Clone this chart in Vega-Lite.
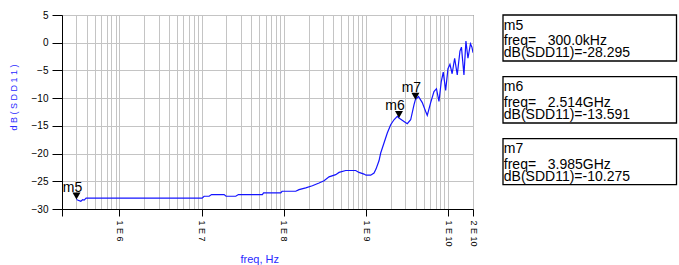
{
  "$schema": "https://vega.github.io/schema/vega-lite/v6.json",
  "padding": {"left": 8, "top": 9, "right": 0, "bottom": 0},
  "config": {"font": "Liberation Sans", "view": {"stroke": null}},
  "bounds": "flush",
  "spacing": 30,
  "datasets": {
    "sdd11": [
      {"freq": 3e5, "db": -28.295}, {"freq": 3.24e5, "db": -28.5}, {"freq": 3.39e5, "db": -28.6},
      {"freq": 3.57e5, "db": -28.3}, {"freq": 3.72e5, "db": -28.4}, {"freq": 3.93e5, "db": -28.05},
      {"freq": 1.013e7, "db": -28.05}, {"freq": 1.071e7, "db": -27.7}, {"freq": 1.232e7, "db": -27.7},
      {"freq": 1.321e7, "db": -27.4}, {"freq": 1.875e7, "db": -27.4}, {"freq": 1.983e7, "db": -27.7},
      {"freq": 2.601e7, "db": -27.7}, {"freq": 2.798e7, "db": -27.4}, {"freq": 5.477e7, "db": -27.4},
      {"freq": 5.665e7, "db": -27.1}, {"freq": 9.17e7, "db": -27.1}, {"freq": 9.51e7, "db": -26.8},
      {"freq": 1.395e8, "db": -26.8}, {"freq": 1.53e8, "db": -26.5}, {"freq": 1.846e8, "db": -26.2},
      {"freq": 2.221e8, "db": -25.8}, {"freq": 2.679e8, "db": -25.3}, {"freq": 3.083e8, "db": -24.9},
      {"freq": 3.545e8, "db": -24.2}, {"freq": 4.276e8, "db": -23.8}, {"freq": 4.69e8, "db": -23.4},
      {"freq": 5.656e8, "db": -23.05}, {"freq": 7.486e8, "db": -23.05}, {"freq": 8.21e8, "db": -23.4},
      {"freq": 9.44e8, "db": -23.7}, {"freq": 9.99e8, "db": -23.9}, {"freq": 1.139e9, "db": -23.9},
      {"freq": 1.25e9, "db": -23.5}, {"freq": 1.321e9, "db": -22.8}, {"freq": 1.437e9, "db": -21.3},
      {"freq": 1.507e9, "db": -19.9}, {"freq": 1.653e9, "db": -18.1}, {"freq": 1.813e9, "db": -16.3},
      {"freq": 1.994e9, "db": -14.8}, {"freq": 2.187e9, "db": -13.9}, {"freq": 2.399e9, "db": -13.3},
      {"freq": 2.514e9, "db": -13.591}, {"freq": 2.893e9, "db": -14.2}, {"freq": 3.174e9, "db": -14.6},
      {"freq": 3.49e9, "db": -13.9}, {"freq": 3.828e9, "db": -11.2}, {"freq": 3.985e9, "db": -10.275},
      {"freq": 4.342e9, "db": -9.7}, {"freq": 4.83e9, "db": -10.8}, {"freq": 5.312e9, "db": -12.4},
      {"freq": 5.555e9, "db": -13.1}, {"freq": 6.11e9, "db": -10.8}, {"freq": 6.701e9, "db": -8.8},
      {"freq": 7.187e9, "db": -8.3}, {"freq": 7.707e9, "db": -10.6}, {"freq": 8.222e9, "db": -7.0},
      {"freq": 8.695e9, "db": -5.3}, {"freq": 9.298e9, "db": -8.6}, {"freq": 9.917e9, "db": -4.7},
      {"freq": 1.049e10, "db": -3.9}, {"freq": 1.115e10, "db": -5.6}, {"freq": 1.196e10, "db": -2.8},
      {"freq": 1.287e10, "db": -5.8}, {"freq": 1.388e10, "db": -1.5}, {"freq": 1.447e10, "db": -0.8},
      {"freq": 1.552e10, "db": -5.8}, {"freq": 1.641e10, "db": 0.3}, {"freq": 1.736e10, "db": -2.8},
      {"freq": 1.862e10, "db": -0.2}, {"freq": 1.941e10, "db": -0.8}, {"freq": 2e10, "db": -1.8}
    ],
    "markers": [
      {"name": "m5", "freq": 3e5, "db": -28.295},
      {"name": "m6", "freq": 2.514e9, "db": -13.591},
      {"name": "m7", "freq": 3.985e9, "db": -10.275}
    ],
    "boxes": [
      {"name": "m5", "x0": 0, "x1": 173.5, "top": 0, "bottom": 46},
      {"name": "m6", "x0": 0, "x1": 173.5, "top": 61.6, "bottom": 108},
      {"name": "m7", "x0": 0, "x1": 173.5, "top": 123.6, "bottom": 169.6}
    ],
    "lines": [
      {"x": 0.8, "y": 14.5, "text": "m5"},
      {"x": 0.8, "y": 30, "text": "freq=\u00a0\u00a0\u00a0300.0kHz"},
      {"x": 0.8, "y": 42.3, "text": "dB(SDD11)=-28.295"},
      {"x": 0.8, "y": 76.1, "text": "m6"},
      {"x": 0.8, "y": 91.6, "text": "freq=\u00a0\u00a0\u00a02.514GHz"},
      {"x": 0.8, "y": 103.9, "text": "dB(SDD11)=-13.591"},
      {"x": 0.8, "y": 138.1, "text": "m7"},
      {"x": 0.8, "y": 153.6, "text": "freq=\u00a0\u00a0\u00a03.985GHz"},
      {"x": 0.8, "y": 165.9, "text": "dB(SDD11)=-10.275"}
    ]
  },
  "hconcat": [
    {
      "width": 411,
      "height": 194,
      "view": {"stroke": "#404040", "strokeWidth": 1},
      "encoding": {
        "x": {
          "field": "freq", "type": "quantitative",
          "scale": {"type": "log", "domain": [2e5, 2e10], "nice": false},
          "axis": {
            "values": [2e5, 3e5, 4e5, 5e5, 6e5, 7e5, 8e5, 9e5,
                       1e6, 2e6, 3e6, 4e6, 5e6, 6e6, 7e6, 8e6, 9e6,
                       1e7, 2e7, 3e7, 4e7, 5e7, 6e7, 7e7, 8e7, 9e7,
                       1e8, 2e8, 3e8, 4e8, 5e8, 6e8, 7e8, 8e8, 9e8,
                       1e9, 2e9, 3e9, 4e9, 5e9, 6e9, 7e9, 8e9, 9e9,
                       1e10, 2e10],
            "grid": true, "gridColor": "#c4c4c4", "gridWidth": 1,
            "domainColor": "black", "tickColor": "black",
            "tickSize": {"condition": {"test": "datum.value==2e5||datum.value==1e6||datum.value==1e7||datum.value==1e8||datum.value==1e9||datum.value==1e10||datum.value==2e10", "value": 7}, "value": 0},
            "labelExpr": "datum.value==1e6?'1 E 6':datum.value==1e7?'1 E 7':datum.value==1e8?'1 E 8':datum.value==1e9?'1 E 9':datum.value==1e10?'1 E 10':datum.value==2e10?'2 E 10':''",
            "labelAngle": 90, "labelFontSize": 9, "labelPadding": 4, "labelColor": "black",
            "labelOverlap": false, "labelFlush": false,
            "title": "freq, Hz", "titleColor": "#2a2aff", "titleFontSize": 11, "titleFontWeight": "normal",
            "titleAnchor": "start", "titleAlign": "left", "titleX": 178, "titleY": 53.7, "titleBaseline": "alphabetic"
          }
        },
        "y": {
          "field": "db", "type": "quantitative",
          "scale": {"domain": [-30, 5], "nice": false, "zero": false},
          "axis": {
            "values": [-30, -25, -20, -15, -10, -5, 0, 5],
            "grid": true, "gridColor": "#c4c4c4", "gridWidth": 1,
            "domainColor": "black", "tickColor": "black", "tickSize": 10,
            "labelPadding": 4, "labelFontSize": 10, "labelColor": "black", "labelOverlap": false,
            "title": "d B ( S D D 1 1 )", "titleColor": "#2a2aff", "titleFontSize": 9, "titleFontWeight": "normal",
            "titleX": -49, "titleY": 82, "titleAlign": "center", "titleBaseline": "middle", "titleAngle": -90
          }
        }
      },
      "layer": [
        {
          "data": {"name": "sdd11"},
          "mark": {"type": "line", "color": "#1414ff", "strokeWidth": 1.2, "clip": true}
        },
        {
          "data": {"name": "markers"},
          "mark": {"type": "point", "shape": "triangle-down", "filled": true, "color": "black", "opacity": 1, "size": 64, "yOffset": -3.5}
        },
        {
          "data": {"name": "markers"},
          "mark": {"type": "text", "fontSize": 14, "dx": -4, "dy": -8, "baseline": "alphabetic", "align": "center", "color": "black"},
          "encoding": {"text": {"field": "name"}}
        }
      ]
    },
    {
      "width": 174,
      "height": 194,
      "layer": [
        {
          "data": {"name": "boxes"},
          "mark": {"type": "rect", "fill": "white", "fillOpacity": 0, "stroke": "black", "strokeWidth": 1.3},
          "encoding": {
            "x": {"field": "x0", "type": "quantitative", "scale": {"domain": [0, 174], "nice": false, "zero": false}, "axis": null},
            "x2": {"field": "x1"},
            "y": {"field": "top", "type": "quantitative", "scale": {"domain": [194, 0], "nice": false, "zero": false}, "axis": null},
            "y2": {"field": "bottom"}
          }
        },
        {
          "data": {"name": "lines"},
          "mark": {"type": "text", "align": "left", "baseline": "alphabetic", "fontSize": 14, "color": "black"},
          "encoding": {
            "x": {"field": "x", "type": "quantitative", "scale": {"domain": [0, 174], "nice": false, "zero": false}, "axis": null},
            "y": {"field": "y", "type": "quantitative", "scale": {"domain": [194, 0], "nice": false, "zero": false}, "axis": null},
            "text": {"field": "text"}
          }
        }
      ]
    }
  ]
}
